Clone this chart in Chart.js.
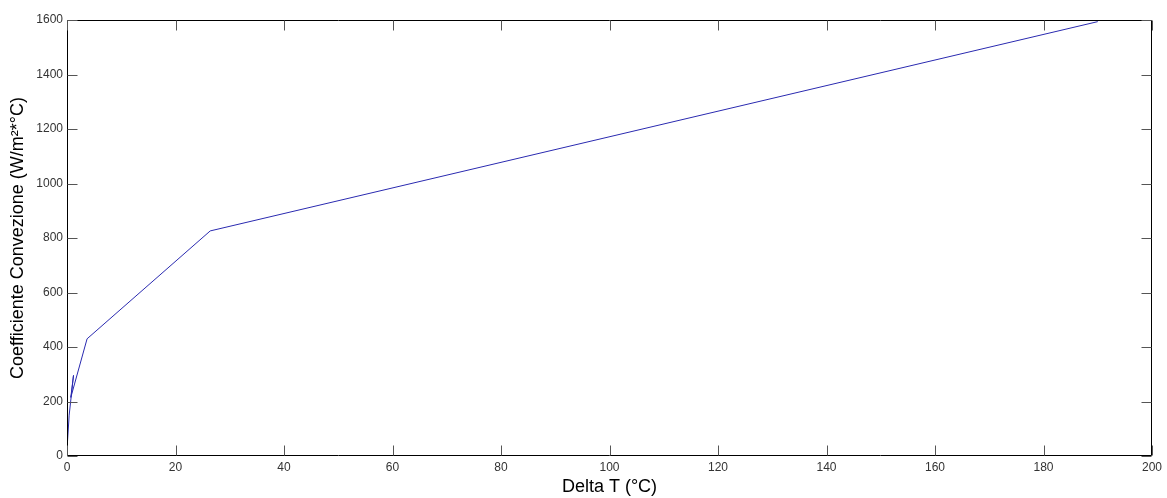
<!DOCTYPE html>
<html>
<head>
<meta charset="utf-8">
<script src="https://cdn.jsdelivr.net/npm/chart.js@4.4.1/dist/chart.umd.min.js"></script>
<style>
  html, body { margin: 0; padding: 0; background: #ffffff; }
  #wrap { width: 1167px; height: 498px; position: relative; }
</style>
</head>
<body>
<div id="wrap"><canvas id="c" width="1167" height="498"></canvas></div>
<script>
const deltaT = [0.05, 0.4, 1.2, 0.7, 3.7, 26.4, 190];
const coeff = [40, 150, 296, 215, 430, 826, 1594];
const xTicks = [0, 20, 40, 60, 80, 100, 120, 140, 160, 180, 200];
const yTicks = [0, 200, 400, 600, 800, 1000, 1200, 1400, 1600];
const xTitle = 'Delta T (°C)';
const yTitle = 'Coefficiente Convezione (W/m²*°C)';

const points = deltaT.map((x, i) => ({ x: x, y: coeff[i] }));

const boxPlugin = {
  id: 'matlabBox',
  afterDatasetsDraw(chart) {
    const ctx = chart.ctx;
    const a = chart.chartArea;
    const xs = chart.scales.x, ys = chart.scales.y;
    ctx.save();
    ctx.strokeStyle = '#000000';
    ctx.lineWidth = 1;
    const l = Math.round(a.left) + 0.5, r = Math.round(a.right) - 0.5;
    const t = Math.round(a.top) + 0.5, b = Math.round(a.bottom) - 0.5;
    ctx.beginPath();
    ctx.moveTo(l, t); ctx.lineTo(r, t); ctx.lineTo(r, b); ctx.lineTo(l, b); ctx.closePath();
    ctx.stroke();
    ctx.strokeStyle = '#555555';
    const L = 10;
    ctx.beginPath();
    xs.ticks.forEach(tk => {
      const px = Math.round(xs.getPixelForValue(tk.value)) + 0.5;
      ctx.moveTo(px, b); ctx.lineTo(px, b - L);
      ctx.moveTo(px, t); ctx.lineTo(px, t + L);
    });
    ys.ticks.forEach(tk => {
      const py = Math.round(ys.getPixelForValue(tk.value)) + 0.5;
      ctx.moveTo(l, py); ctx.lineTo(l + L, py);
      ctx.moveTo(r, py); ctx.lineTo(r - L, py);
    });
    ctx.stroke();
    ctx.restore();
  }
};

new Chart(document.getElementById('c'), {
  type: 'scatter',
  data: {
    datasets: [{
      data: points,
      showLine: true,
      borderColor: '#2a2ab0',
      borderWidth: 1,
      pointRadius: 0,
      tension: 0,
      fill: false
    }]
  },
  options: {
    responsive: false,
    animation: false,
    devicePixelRatio: 1,
    layout: { padding: { top: 20, right: 15, left: 0, bottom: 0 } },
    plugins: { legend: { display: false }, tooltip: { enabled: false } },
    scales: {
      x: {
        type: 'linear',
        min: 0, max: 200,
        afterBuildTicks(s) { s.ticks = xTicks.map(v => ({ value: v })); },
        afterFit(s) { s.height = 42; },
        grid: { display: true, drawOnChartArea: false, drawTicks: false },
        border: { display: false },
        ticks: {
          padding: 4,
          maxRotation: 0,
          color: '#333333',
          callback: v => String(v),
          font: { family: 'Liberation Sans, Arial, sans-serif', size: 12 }
        },
        title: {
          display: true,
          text: xTitle,
          color: '#000000',
          padding: { top: 0, bottom: 0 },
          font: { family: 'Liberation Sans, Arial, sans-serif', size: 18 }
        }
      },
      y: {
        type: 'linear',
        min: 0, max: 1600,
        afterBuildTicks(s) { s.ticks = yTicks.map(v => ({ value: v })); },
        afterFit(s) { s.width = 67; },
        grid: { display: true, drawOnChartArea: false, drawTicks: false },
        border: { display: false },
        ticks: {
          padding: 4,
          color: '#333333',
          callback: v => String(v),
          font: { family: 'Liberation Sans, Arial, sans-serif', size: 12 }
        },
        title: {
          display: true,
          text: yTitle,
          color: '#000000',
          padding: { top: 7, bottom: 0 },
          font: { family: 'Liberation Sans, Arial, sans-serif', size: 18 }
        }
      }
    }
  },
  plugins: [boxPlugin]
});
</script>
</body>
</html>
